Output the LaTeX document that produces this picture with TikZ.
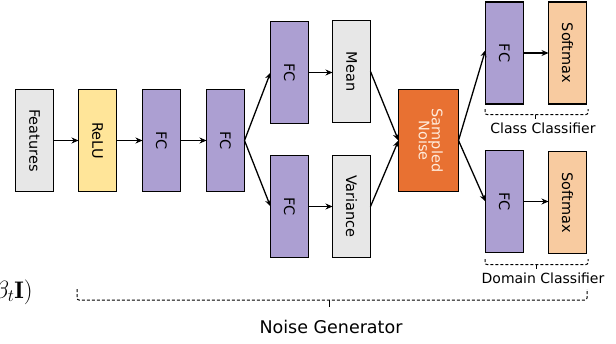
\documentclass[tikz,border=0pt]{standalone}
\usepackage{fontspec}
\newfontfamily\labfont{DejaVu Sans}
\usetikzlibrary{arrows.meta}
\definecolor{fcpurple}{RGB}{172,159,210}
\definecolor{relyellow}{RGB}{255,229,153}
\definecolor{featgray}{RGB}{231,231,231}
\definecolor{noiseorange}{RGB}{232,113,50}
\definecolor{softpeach}{RGB}{248,203,160}
\definecolor{noisetext}{RGB}{255,236,220}
\begin{document}
\begin{tikzpicture}[x=1pt,y=-1pt,
  box/.style={draw=black,line width=1.3pt,inner sep=0pt,outer sep=0pt,
    minimum width=38pt,minimum height=102pt,
    font=\labfont\fontsize{14.5}{16}\selectfont},
  fcbox/.style={box,fill=fcpurple},
  conn/.style={line width=1.3pt,-{Stealth[length=7pt,width=6pt]}},
  brace/.style={line width=1pt,dash pattern=on 3pt off 2pt,rounded corners=2pt},
  bracelab/.style={font=\labfont\fontsize{14}{16}\selectfont,inner sep=0pt}]
\useasboundingbox (0,0) rectangle (616,343);
% partial formula clipped at the left edge
\begin{scope}
\clip (0,0) rectangle (616,343);
\node[anchor=base east,inner sep=0pt,font=\fontsize{24}{27}\selectfont] (form) at (33,298) {$\beta_t\mathbf{I})$};
\end{scope}
% boxes
\node[box,fill=featgray] (feat) at (34.5,140.5) {\rotatebox{-90}{Features}};
\node[box,fill=relyellow] (relu) at (97.5,140.5) {\rotatebox{-90}{ReLU}};
\node[fcbox] (fc1) at (161.5,140.5) {\rotatebox{-90}{FC}};
\node[fcbox] (fc2) at (225.5,140.5) {\rotatebox{-90}{FC}};
\node[fcbox] (fcu) at (289.5,72.5) {\rotatebox{-90}{FC}};
\node[box,fill=featgray] (mean) at (351.5,71.5) {\rotatebox{-90}{Mean}};
\node[fcbox] (fcl) at (289.5,206.5) {\rotatebox{-90}{FC}};
\node[box,fill=featgray] (var) at (351.5,206.5) {\rotatebox{-90}{Variance}};
\node[box,fill=noiseorange,minimum width=60pt,text=noisetext] (noise) at (428.5,140.5)
  {\rotatebox{-90}{\begin{tabular}{@{}c@{}}Sampled\\[-3pt]Noise\end{tabular}}};
\node[fcbox] (fcc) at (504.5,53) {\rotatebox{-90}{FC}};
\node[box,fill=softpeach] (softc) at (567.5,53) {\rotatebox{-90}{Softmax}};
\node[fcbox] (fcd) at (504.5,201.5) {\rotatebox{-90}{FC}};
\node[box,fill=softpeach] (softd) at (567.5,202.5) {\rotatebox{-90}{Softmax}};
% connectors
\draw[conn] (feat.east) -- (relu.west);
\draw[conn] (relu.east) -- (fc1.west);
\draw[conn] (fc1.east) -- (fc2.west);
\draw[conn] (fc2.east) -- (fcu.west);
\draw[conn] (fc2.east) -- (fcl.west);
\draw[conn] (fcu.east) -- (fcu.east -| mean.west);
\draw[conn] (fcl.east) -- (var.west);
\draw[conn] (mean.east) -- (noise.west);
\draw[conn] (var.east) -- (noise.west);
\draw[conn] (noise.east) -- ([yshift=3pt]fcc.west);
\draw[conn] (noise.east) -- (fcd.west);
\draw[conn] (fcc.east) -- (fcc.east -| softc.west);
\draw[conn] (fcd.east) -- (fcd.east -| softd.west);
% braces
\coordinate (cb1) at (485,109);
\coordinate (cb2) at (588,109);
\draw[brace] (cb1) -- (485,114.5) -- (588,114.5) -- (cb2);
\draw[line width=1pt] (535,114.5) -- (535,119);
\node[bracelab,anchor=base] (cl) at (543,133) {Class Classifier};
\coordinate (db1) at (485,259);
\coordinate (db2) at (588,259);
\draw[brace] (db1) -- (485,264.5) -- (588,264.5) -- (db2);
\draw[line width=1pt] (536,264.5) -- (536,269);
\node[bracelab,anchor=base] (dl) at (543,283) {Domain Classifier};
\coordinate (nb1) at (77,289);
\coordinate (nb2) at (587,289);
\draw[brace] (nb1) -- (77,300) -- (587,300) -- (nb2);
\draw[line width=1pt] (329,300) -- (329,307);
\node[bracelab,anchor=base,font=\labfont\fontsize{17.5}{20}\selectfont] (nl) at (331,333) {Noise Generator};
\end{tikzpicture}
\end{document}
